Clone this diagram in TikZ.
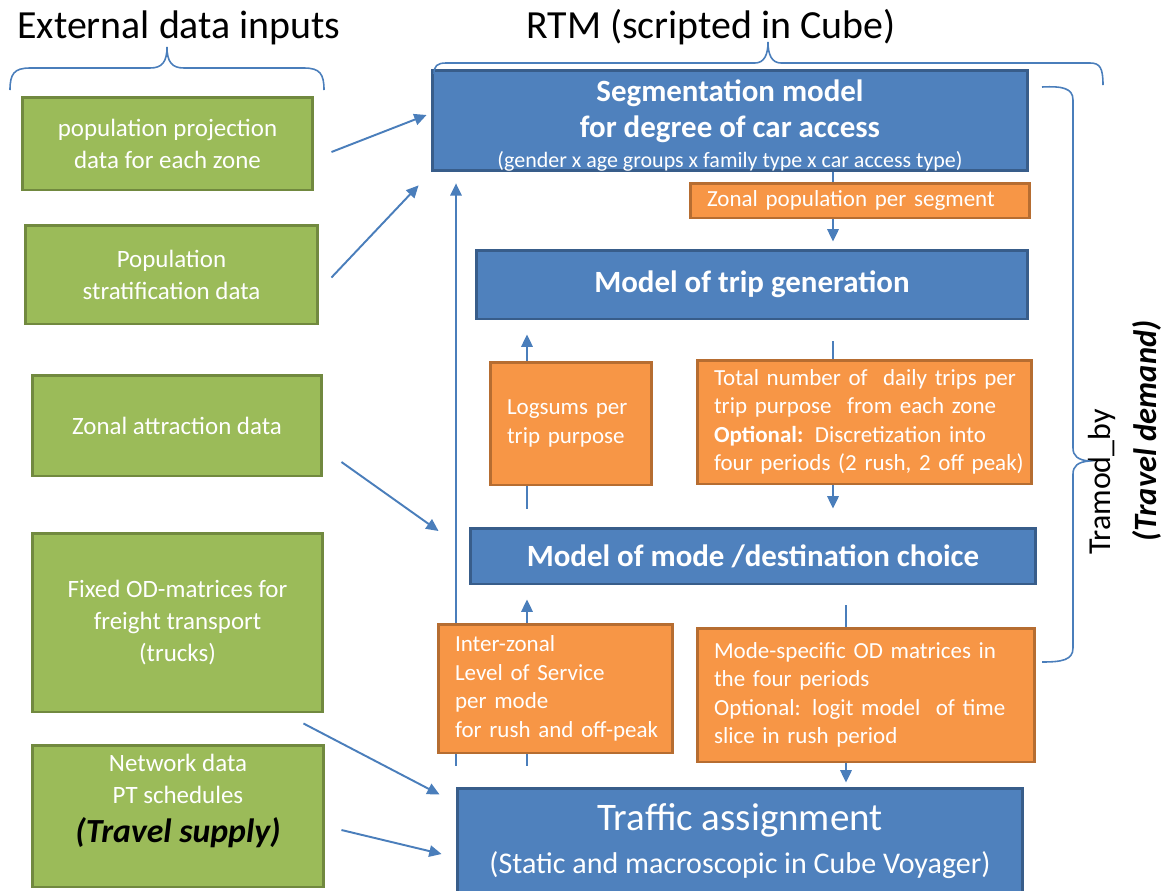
\documentclass[tikz,border=0pt]{standalone}
\usepackage{fontspec}
\setmainfont{Carlito}
\usetikzlibrary{arrows.meta,backgrounds}

\definecolor{greenfill}{HTML}{9BBB59}
\definecolor{greenline}{HTML}{71893F}
\definecolor{bluefill}{HTML}{4F81BD}
\definecolor{blueline}{HTML}{385D8A}
\definecolor{orangefill}{HTML}{F79646}
\definecolor{orangeline}{HTML}{B66D31}
\definecolor{arrowblue}{HTML}{4A7EBB}

\newcommand{\pxfont}[2]{\fontsize{#1}{#2}\selectfont}

\begin{document}
\begin{tikzpicture}[x=0.02cm, y=-0.02cm,
		every node/.style={inner sep=0pt, text=white},
		boxsize/.style 2 args={minimum width=#1, minimum height=#2},
		inbox/.style={draw=greenline, fill=greenfill, line width=1.7pt, align=center, font=\pxfont{14.2pt}{18.2pt}},
		modelbox/.style={draw=blueline, fill=bluefill, line width=1.7pt, align=center, font=\bfseries\pxfont{17.6pt}{20.5pt}},
		databox/.style={draw=orangeline, fill=orangefill, line width=1.7pt, align=left, inner xsep=0.34cm, font=\pxfont{13.1pt}{16.2pt}},
		title/.style={text=black, font=\pxfont{22.7pt}{27pt}},
		flow/.style={draw=arrowblue, line width=1.1pt, -{Triangle[length=7pt, width=6.5pt]}},
		link/.style={draw=arrowblue, line width=1.1pt},
		brace/.style={draw=arrowblue, line width=0.9pt}]
		\clip (0, 0) rectangle (1170, 890);

		\node at (179, 38) [title, anchor=base] (extin) {External data inputs};
		\node at (711, 38) [title, anchor=base] (rtm) {RTM (scripted in Cube)};

		% external inputs
		\node at (167.5, 143.5) [inbox, boxsize={5.82cm}{1.86cm}] (popproj) {population projection\\data for each zone};
		\node at (171.5, 274.5) [inbox, boxsize={5.86cm}{1.98cm}] (popstrat) {Population\\stratification data};
		\node at (177, 425.5) [inbox, boxsize={5.80cm}{2.02cm}] (attract) {Zonal attraction data};
		\node at (177.5, 622.5) [inbox, boxsize={5.82cm}{3.58cm}] (freight) {Fixed OD-matrices for\\freight transport\\(trucks)};
		\node at (178, 816) [inbox] (supply) {\parbox[c][2.84cm][t]{5.84cm}{\centering\vspace*{0.18cm}Network data\\PT schedules\\[4pt]{\color{black}\bfseries\itshape\pxfont{19.2pt}{22pt}(Travel supply)}}};

		% RTM
		\node at (730, 120.5) [modelbox, boxsize={11.92cm}{1.86cm}] (segment) {\rule{0pt}{17.7pt}Segmentation model\\for degree of car access\\[-3.5pt]{\mdseries\pxfont{12.5pt}{15pt}(gender x age groups x family type x car access type)}};
		\node at (860, 200.5) [databox, text width=6.12cm, minimum height=0.70cm] (zonalpop) {Zonal population per segment};
		\node at (752, 284.5) [modelbox, boxsize={11.04cm}{1.38cm}] (tripgen) {Model of trip generation};
		\node at (571, 423.5) [databox, text width=2.56cm, minimum height=2.46cm] (logsums) {Logsums per\\trip purpose};
		\node at (864.5, 422) [databox, text width=6.02cm, minimum height=2.48cm] (tripsum) {\mbox{Total number of~ daily trips per}\\\mbox{trip purpose~ from each zone}\\\mbox{\textbf{Optional:} Discretization into}\\\mbox{four periods (2 rush, 2 off peak)}};
		\node at (753, 556) [modelbox, boxsize={11.32cm}{1.12cm}] (modedest) {Model of mode /destination choice};
		\node at (555.5, 688.5) [databox, text width=4.02cm, minimum height=2.58cm] (levelserv) {Inter-zonal\\Level of Service\\per mode\\\mbox{for rush and off-peak}};
		\node at (866, 695) [databox, text width=6.08cm, minimum height=2.68cm] (odmat) {\mbox{Mode-specific OD matrices in}\\the four periods\\\mbox{Optional: logit model~ of time}\\slice in rush period};
		\node at (740, 841.5) [modelbox, boxsize={11.32cm}{2.14cm}, font=\mdseries\pxfont{22.2pt}{24.5pt}] (assign) {Traffic assignment\\{\pxfont{17.1pt}{20pt}(Static and macroscopic in Cube Voyager)}};

		\node at (1102, 482) [text=black, rotate=90, font=\pxfont{18.2pt}{22pt}] (tramod) {Tramod\_by};
		\node at (1147, 431) [text=black, rotate=90, font=\bfseries\itshape\pxfont{18.5pt}{22pt}] (demand) {(Travel demand)};

		\coordinate (colA) at (833, 0);
		\coordinate (colB) at (527, 0);
		\coordinate (colC) at (846, 0);
		\coordinate (colD) at (456, 0);

		% inputs into the model
		\draw[flow] ([shift={(17,8.5)}]popproj.east) -- ([shift={(-4,-5.5)}]segment.west);
		\draw[flow] ([shift={(12,3)}]popstrat.east) -- ([shift={(-12,13)}]segment.south west);
		\draw[flow] ([shift={(18,36.5)}]attract.east) -- ([shift={(-30,-25)}]modedest.west);
		\draw[flow] ([shift={(-21,10)}]freight.south east) -- ([shift={(-16,8)}]assign.north west);
		\draw[flow] ([shift={(16,14)}]supply.east) -- ([shift={(-14,12.5)}]assign.west);

		% model chain
		\draw[link] (segment.south -| colA) -- (zonalpop.north -| colA);
		\draw[flow, shorten >=0.14cm] (zonalpop.south -| colA) -- (tripgen.north -| colA);
		\draw[link, shorten <=0.42cm] (tripgen.south -| colA) -- (tripsum.north -| colA);
		\draw[flow, shorten >=0.36cm] (tripsum.south -| colA) -- (modedest.north -| colA);
		\draw[flow, shorten >=0.28cm] (logsums.north -| colB) -- (tripgen.south -| colB);
		\draw[link, shorten >=0.36cm] (logsums.south -| colB) -- (modedest.north -| colB);
		\draw[link, shorten <=0.4cm] (modedest.south -| colC) -- (odmat.north -| colC);
		\draw[flow, shorten >=0.08cm] (odmat.south -| colC) -- (assign.north -| colC);
		\draw[flow, shorten >=0.28cm] (levelserv.north -| colB) -- (modedest.south -| colB);
		\draw[link, shorten >=0.42cm] (levelserv.south -| colB) -- (assign.north -| colB);
		\begin{scope}[on background layer]
			\draw[flow, shorten <=0.42cm, shorten >=0.22cm] (assign.north -| colD) -- (segment.south -| colD);
		\end{scope}

		% braces
		\draw[brace] (10, 90) .. controls (10, 74) and (14, 68) .. (30, 68) -- (150, 68) .. controls (162, 68) and (167, 62) .. (167, 47) .. controls (167, 62) and (172, 68) .. (184, 68) -- (304, 68) .. controls (320, 68) and (324, 74) .. (324, 90);
		\draw[brace] (434, 74) .. controls (434, 66) and (437, 63) .. (446, 63) -- (755, 63) .. controls (764, 63) and (768, 55) .. (768, 42) .. controls (768, 55) and (772, 63) .. (781, 63) -- (1090, 63) .. controls (1100, 63) and (1103, 68) .. (1103, 85);
		\draw[brace] (1042, 87) .. controls (1062, 86) and (1073, 88) .. (1073, 100) -- (1073, 448) .. controls (1073, 456) and (1078, 460) .. (1089, 461) .. controls (1078, 462) and (1073, 466) .. (1073, 474) -- (1073, 648) .. controls (1073, 660) and (1062, 662) .. (1042, 662);
	\end{tikzpicture}
\end{document}
